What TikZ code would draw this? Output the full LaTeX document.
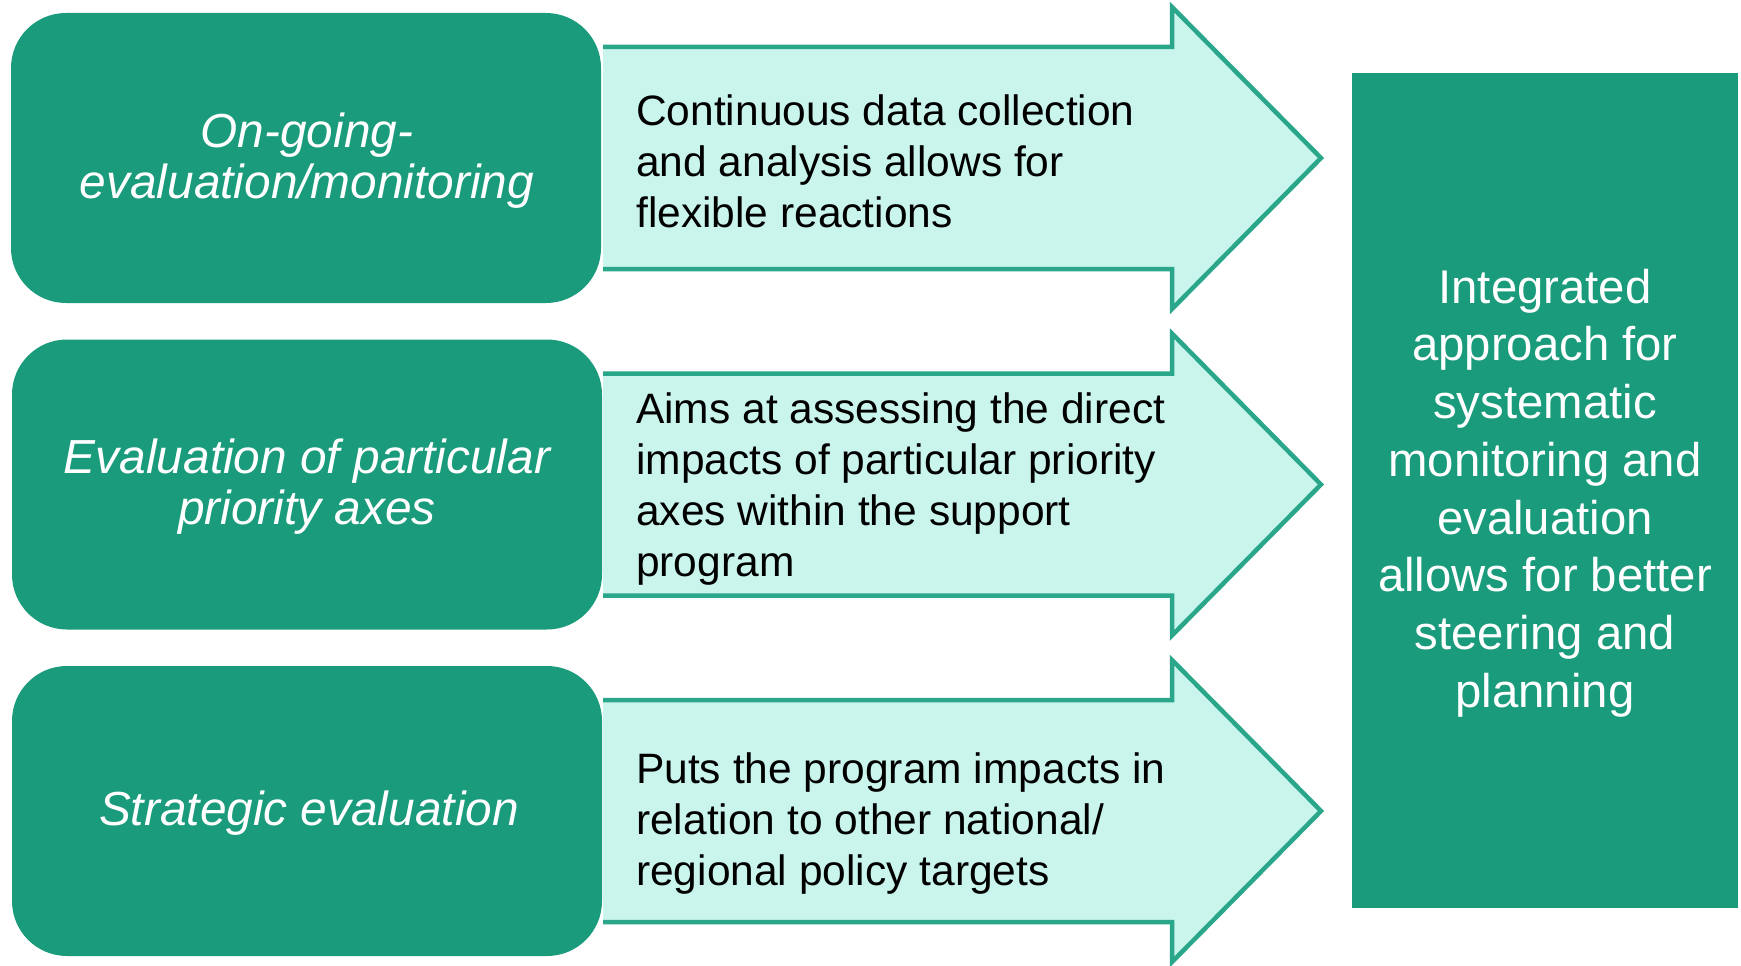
\documentclass[tikz,border=0pt]{standalone}
\usepackage{fontspec}
\setmainfont{Liberation Sans}
\definecolor{tealdark}{HTML}{1A9B7B}
\definecolor{tealline}{HTML}{2AA68A}
\definecolor{mintfill}{HTML}{CAF5EC}
\tikzset{
  stagebox/.style={fill=tealdark, rounded corners=55, minimum width=590, minimum height=290,
    inner sep=0},
  stagelabel/.style={inner sep=0, text=white, align=center,
    font=\fontsize{47.8}{51}\selectfont\itshape},
  flowarrow/.style={fill=mintfill, draw=tealline, line width=4.5, line join=miter},
  arrowtext/.style={anchor=west, align=left, inner sep=0, text=black,
    font=\fontsize{42.5}{51}\selectfont},
  resultbox/.style={fill=tealdark, minimum width=386, minimum height=835, inner sep=0},
  resultlabel/.style={inner sep=0, text=white, align=center,
    font=\fontsize{47.3}{57.7}\selectfont},
}
\begin{document}
\begin{tikzpicture}[x=1pt, y=-1pt]
\useasboundingbox (0,0) rectangle (1741,966);
\fill[white] (0,0) rectangle (1741,966);

% block arrows, one per evaluation stage
\foreach \dy in {0, 326.5, 653}{
  \begin{scope}[yshift=-\dy]
    \draw[flowarrow] (603,47) -- (1172,47) -- (1172,7) -- (1321,158)
      -- (1172,309) -- (1172,269) -- (603,269);
  \end{scope}
}

% evaluation stages
\node[stagebox] (s1) at (306,158) {};
\node[stagelabel] (s1l) at (307,161) {On-going-\\evaluation/monitoring};
\node[stagebox] (s2) at (307,484.5) {};
\node[stagelabel] (s2l) at (307,487) {Evaluation of particular\\priority axes};
\node[stagebox] (s3) at (307,811) {};
\node[stagelabel] (s3l) at (309,813.5) {Strategic evaluation};

% descriptions inside the arrows
\node[arrowtext] (t1) at (636,161.5) {Continuous data collection\\and analysis allows for\\flexible reactions};
\node[arrowtext] (t2) at (636,489) {Aims at assessing the direct\\impacts of particular priority\\axes within the support\\program};
\node[arrowtext] (t3) at (636,823.5) {Puts the program impacts in\\relation to other national/\\regional policy targets};

% outcome
\node[resultbox] (r) at (1545,490.5) {};
\node[resultlabel] (rl) at (1545,493) {Integrated\\approach for\\systematic\\monitoring and\\evaluation\\allows for better\\steering and\\planning};
\end{tikzpicture}
\end{document}
